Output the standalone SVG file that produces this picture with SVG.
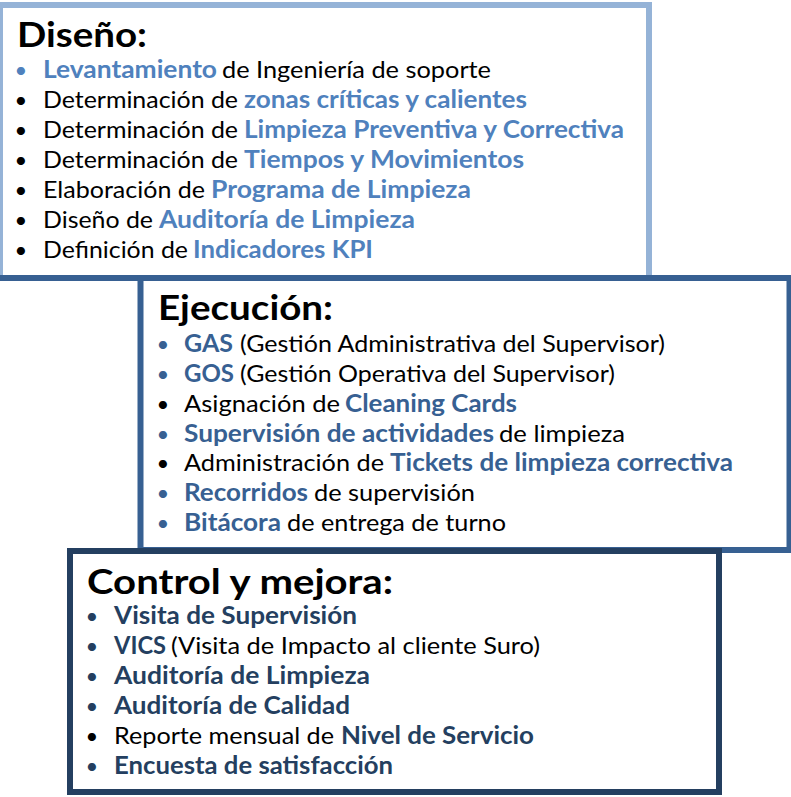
<svg xmlns="http://www.w3.org/2000/svg" width="791" height="797" viewBox="0 0 791 797">
<style>
text{font-family:Lato,"Open Sans","Liberation Sans",sans-serif;font-size:24px;fill:#000}
.t{font-size:35px;font-weight:700}
.b{font-weight:700}
.c1{fill:#4F81BD}
.c2{fill:#376092}
.c3{fill:#243F60}
.bu{font-size:22px;text-anchor:middle}
.box{fill:#fff;stroke-width:6}
</style>
<g id="diseno">
<rect class="box" x="0" y="5" width="649" height="273" stroke="#95B3D7"/>
<line x1="0" y1="278" x2="142" y2="278" stroke="#376092" stroke-width="6"/>
<text class="t" x="17" y="47" textLength="130" lengthAdjust="spacingAndGlyphs">Diseño:</text>
<text class="bu c1" x="21" y="78">•</text>
<text class="b c1" x="43" y="78" textLength="174" lengthAdjust="spacingAndGlyphs">Levantamiento</text>
<text x="222" y="78" textLength="269" lengthAdjust="spacingAndGlyphs">de Ingeniería de soporte</text>
<text class="bu" x="21" y="108">•</text>
<text x="43" y="108" textLength="195" lengthAdjust="spacingAndGlyphs">Determinación de</text>
<text class="b c1" x="244" y="108" textLength="283" lengthAdjust="spacingAndGlyphs">zonas críticas y calientes</text>
<text class="bu" x="21" y="138">•</text>
<text x="43" y="138" textLength="195" lengthAdjust="spacingAndGlyphs">Determinación de</text>
<text class="b c1" x="244" y="138" textLength="380" lengthAdjust="spacingAndGlyphs">Limpieza Preventiva y Correctiva</text>
<text class="bu" x="21" y="168">•</text>
<text x="43" y="168" textLength="195" lengthAdjust="spacingAndGlyphs">Determinación de</text>
<text class="b c1" x="244" y="168" textLength="280" lengthAdjust="spacingAndGlyphs">Tiempos y Movimientos</text>
<text class="bu" x="21" y="198">•</text>
<text x="43" y="198" textLength="162" lengthAdjust="spacingAndGlyphs">Elaboración de</text>
<text class="b c1" x="211" y="198" textLength="260" lengthAdjust="spacingAndGlyphs">Programa de Limpieza</text>
<text class="bu" x="21" y="228">•</text>
<text x="43" y="228" textLength="110" lengthAdjust="spacingAndGlyphs">Diseño de</text>
<text class="b c1" x="159" y="228" textLength="256" lengthAdjust="spacingAndGlyphs">Auditoría de Limpieza</text>
<text class="bu" x="21" y="258">•</text>
<text x="43" y="258" textLength="145" lengthAdjust="spacingAndGlyphs">Definición de</text>
<text class="b c1" x="193" y="258" textLength="180" lengthAdjust="spacingAndGlyphs">Indicadores KPI</text>
</g>
<g id="ejecucion">
<rect class="box" x="140.5" y="278" width="649" height="272" stroke="#376092"/>
<text class="t" x="158" y="320" textLength="175" lengthAdjust="spacingAndGlyphs">Ejecución:</text>
<text class="bu c2" x="163" y="352">•</text>
<text class="b c2" x="184" y="352" textLength="49" lengthAdjust="spacingAndGlyphs">GAS</text>
<text x="240" y="352" textLength="425" lengthAdjust="spacingAndGlyphs">(Gestión Administrativa del Supervisor)</text>
<text class="bu c2" x="163" y="382">•</text>
<text class="b c2" x="184" y="382" textLength="50" lengthAdjust="spacingAndGlyphs">GOS</text>
<text x="240" y="382" textLength="375" lengthAdjust="spacingAndGlyphs">(Gestión Operativa del Supervisor)</text>
<text class="bu" x="163" y="412">•</text>
<text x="184" y="412" textLength="156" lengthAdjust="spacingAndGlyphs">Asignación de</text>
<text class="b c2" x="345" y="412" textLength="172" lengthAdjust="spacingAndGlyphs">Cleaning Cards</text>
<text class="bu c2" x="163" y="442">•</text>
<text class="b c2" x="184" y="442" textLength="310" lengthAdjust="spacingAndGlyphs">Supervisión de actividades</text>
<text x="499" y="442" textLength="126" lengthAdjust="spacingAndGlyphs">de limpieza</text>
<text class="bu" x="163" y="471">•</text>
<text x="184" y="471" textLength="200" lengthAdjust="spacingAndGlyphs">Administración de</text>
<text class="b c2" x="390" y="471" textLength="343" lengthAdjust="spacingAndGlyphs">Tickets de limpieza correctiva</text>
<text class="bu c2" x="163" y="501">•</text>
<text class="b c2" x="184" y="501" textLength="124" lengthAdjust="spacingAndGlyphs">Recorridos</text>
<text x="314" y="501" textLength="161" lengthAdjust="spacingAndGlyphs">de supervisión</text>
<text class="bu c2" x="163" y="531">•</text>
<text class="b c2" x="184" y="531" textLength="97" lengthAdjust="spacingAndGlyphs">Bitácora</text>
<text x="287" y="531" textLength="219" lengthAdjust="spacingAndGlyphs">de entrega de turno</text>
</g>
<g id="control">
<rect class="box" x="70" y="551" width="649" height="241" stroke="#243F60"/>
<text class="t" x="87" y="594" textLength="306" lengthAdjust="spacingAndGlyphs">Control y mejora:</text>
<text class="bu c3" x="92" y="624">•</text>
<text class="b c3" x="114" y="624" textLength="243" lengthAdjust="spacingAndGlyphs">Visita de Supervisión</text>
<text class="bu c3" x="92" y="654">•</text>
<text class="b c3" x="114" y="654" textLength="52" lengthAdjust="spacingAndGlyphs">VICS</text>
<text x="171" y="654" textLength="369" lengthAdjust="spacingAndGlyphs">(Visita de Impacto al cliente Suro)</text>
<text class="bu c3" x="92" y="684">•</text>
<text class="b c3" x="114" y="684" textLength="256" lengthAdjust="spacingAndGlyphs">Auditoría de Limpieza</text>
<text class="bu c3" x="92" y="714">•</text>
<text class="b c3" x="114" y="714" textLength="236" lengthAdjust="spacingAndGlyphs">Auditoría de Calidad</text>
<text class="bu" x="92" y="744">•</text>
<text x="114" y="744" textLength="220" lengthAdjust="spacingAndGlyphs">Reporte mensual de</text>
<text class="b c3" x="341" y="744" textLength="193" lengthAdjust="spacingAndGlyphs">Nivel de Servicio</text>
<text class="bu c3" x="92" y="774">•</text>
<text class="b c3" x="114" y="774" textLength="279" lengthAdjust="spacingAndGlyphs">Encuesta de satisfacción</text>
</g>
</svg>
